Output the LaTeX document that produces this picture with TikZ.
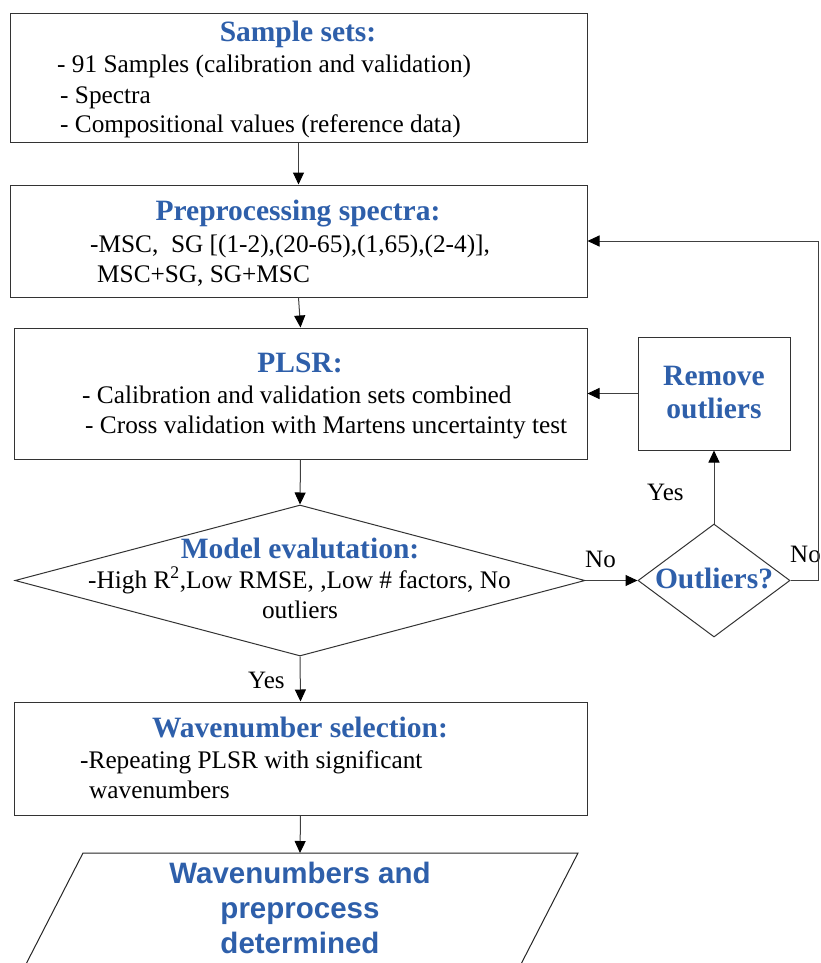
\documentclass[tikz,border=0pt]{standalone}
\usepackage{fontspec}
\setmainfont{Liberation Serif}
\setsansfont{Liberation Sans}
\usetikzlibrary{arrows.meta,shapes.geometric}
\definecolor{ttlblue}{RGB}{46,95,170}
\begin{document}
\begin{tikzpicture}[x=1pt,y=-1pt,
  boxx/.style={draw=black!80, line width=1pt, inner sep=0pt, rectangle},
  dia/.style={draw=black!80, line width=1pt, inner sep=0pt, diamond},
  ttl/.style={font=\bfseries\fontsize{29.5}{34}\selectfont, text=ttlblue, inner sep=0pt, anchor=base},
  ttlsf/.style={font=\sffamily\bfseries\fontsize{29.5}{34}\selectfont, text=ttlblue, inner sep=0pt, anchor=base},
  bt/.style={font=\fontsize{25.3}{30}\selectfont, inner sep=0pt, anchor=base west},
  lbl/.style={font=\fontsize{25}{30}\selectfont, inner sep=0pt, anchor=base west},
  arr/.style={draw=black!75, line width=1pt, -{Triangle[length=12pt,width=11pt,color=black]}},
  ln/.style={draw=black!85, line width=1pt}
]
\useasboundingbox (0,0) rectangle (820,963);
\fill[white] (0,0) rectangle (820,963);

% boxes
\node[boxx, minimum width=577, minimum height=128] (b1) at (298.5,78) {};
\node[boxx, minimum width=577, minimum height=112] (b2) at (298.5,241) {};
\node[boxx, minimum width=573, minimum height=131] (b3) at (300.5,393.5) {};
\node[boxx, minimum width=152, minimum height=113] (rm) at (714,393.5) {};
\node[dia, minimum width=570, minimum height=151] (d1) at (300,580.5) {};
\node[dia, minimum width=152, minimum height=113] (d2) at (714,580.5) {};
\node[boxx, minimum width=573, minimum height=113] (b5) at (300.5,758.5) {};

% parallelogram (output)
\coordinate (ptl) at (83,853);
\coordinate (ptr) at (578,853);
\coordinate (pbl) at (24,968);
\coordinate (pbr) at (519,968);
\coordinate (ptop) at (300,853);
\draw[ln] (pbl) -- (ptl) -- (ptr) -- (pbr);

% texts box 1
\node[ttl] (t1) at (298,42) {Sample sets:};
\node[bt] (t1a) at (57,73) {- 91 Samples (calibration and validation)};
\node[bt] (t1b) at (60,103) {- Spectra};
\node[bt] (t1c) at (60,132) {- Compositional values (reference data)};

% box 2
\node[ttl] (t2) at (298,220) {Preprocessing spectra:};
\node[bt] (t2a) at (90,252) {-MSC,\ \ SG [(1-2),(20-65),(1,65),(2-4)],};
\node[bt] (t2b) at (97,282) {MSC+SG, SG+MSC};

% box 3
\node[ttl] (t3) at (300,372) {PLSR:};
\node[bt] (t3a) at (82,403) {- Calibration and validation sets combined};
\node[bt] (t3b) at (85,433) {- Cross validation with Martens uncertainty test};

% remove outliers
\node[ttl] (trm1) at (714,385) {Remove};
\node[ttl] (trm2) at (714,418) {outliers};

% diamond 1
\node[ttl] (t4) at (300,558) {Model evalutation:};
\node[bt] (t4a) at (88,588) {-High R\textsuperscript{2},Low RMSE, ,Low \# factors, No};
\node[bt, anchor=base] (t4b) at (300,618) {outliers};

% diamond 2
\node[ttl] (t5) at (714,588) {Outliers?};

% box 5
\node[ttl] (t6) at (300,737) {Wavenumber selection:};
\node[bt] (t6a) at (80,768) {-Repeating PLSR with significant};
\node[bt] (t6b) at (89,798) {wavenumbers};

% output texts
\node[ttlsf] (t7a) at (300,883) {Wavenumbers and};
\node[ttlsf] (t7b) at (300,918) {preprocess};
\node[ttlsf] (t7c) at (300,953) {determined};

% labels
\node[lbl] (lno1) at (585,567) {No};
\node[lbl] (lyes1) at (647,500) {Yes};
\node[lbl] (lno2) at (790,562) {No};
\node[lbl] (lyes2) at (248,688) {Yes};

% connectors
\coordinate (fbr) at (818,580.5);
\coordinate (fbt) at (818,241);
\draw[arr] (b1.south) -- (b2.north);
\draw[arr] (b2.south) -- (b3.north);
\draw[arr] (b3.south) -- (d1.north);
\draw[arr] (d1.east) -- (d2.west);
\draw[arr] (d2.north) -- (rm.south);
\draw[arr] (rm.west) -- (rm.west -| b3.east);
\draw[arr] (d2.east) -- (fbr) -- (fbt) -- (b2.east);
\draw[arr] (d1.south) -- (b5.north);
\draw[arr] (b5.south) -- (ptop);
\end{tikzpicture}
\end{document}
